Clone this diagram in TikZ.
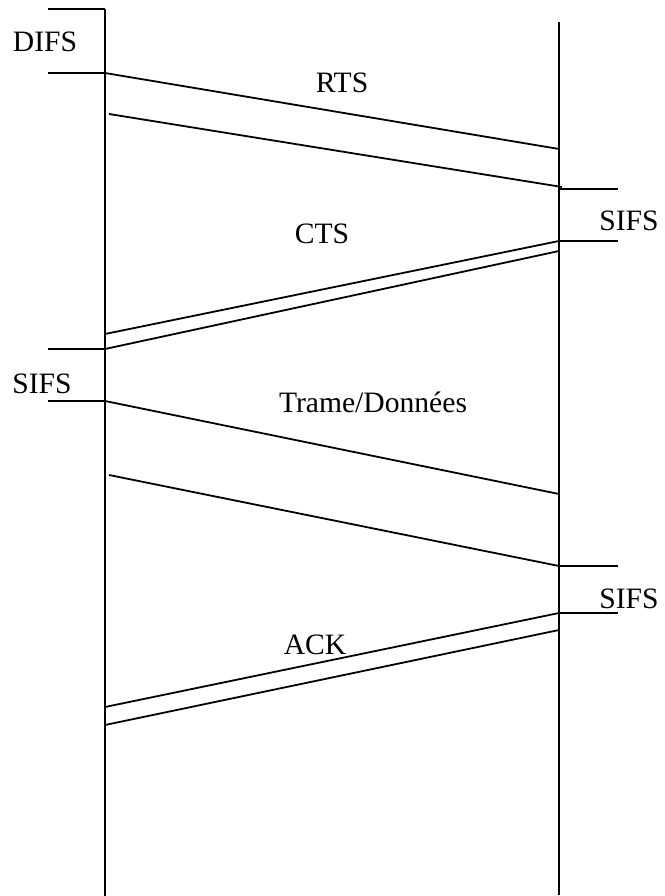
\documentclass[tikz,border=0pt]{standalone}
\usepackage{fontspec}
\setmainfont{Liberation Serif}
\tikzset{lbl/.style={inner sep=0pt, anchor=base, font=\fontsize{29.6}{34}\selectfont}}
\begin{document}
\begin{tikzpicture}[x=1pt,y=-1pt,line width=1.8pt]
\useasboundingbox (0,0) rectangle (664,896);
% the two stations
\coordinate (Atop) at (105,9);
\coordinate (Abot) at (105,896);
\coordinate (Btop) at (559,22);
\coordinate (Bbot) at (559,895);
\draw (Atop)--(Abot) (Btop)--(Bbot);
% DIFS
\coordinate (difsA) at (48,9);
\coordinate (difsB) at (48,73);
\coordinate (rtsA) at (105,73);
\draw (difsA)--(Atop) (difsB)--(rtsA);
\node[lbl] (difs) at (45,52) {DIFS};
% RTS
\coordinate (rtsB) at (559,149);
\coordinate (rtsC) at (109,114);
\coordinate (rtsD) at (562,187);
\draw (rtsA)--(rtsB) (rtsC)--(rtsD);
\node[lbl] (rts) at (342,93) {RTS};
% SIFS before CTS
\coordinate (sifsA) at (559,189);
\coordinate (sifsB) at (618,189);
\coordinate (ctsA) at (559,241);
\coordinate (sifsC) at (618,241);
\draw (sifsA)--(sifsB) (ctsA)--(sifsC);
\node[lbl] (sifsone) at (629,230) {SIFS};
% CTS
\coordinate (ctsB) at (105,334);
\coordinate (ctsC) at (559,251);
\coordinate (ctsD) at (105,349);
\draw (ctsA)--(ctsB) (ctsC)--(ctsD);
\node[lbl] (cts) at (322,243) {CTS};
% SIFS before data
\coordinate (sifsD) at (48,349);
\coordinate (sifsE) at (48,401);
\coordinate (dataA) at (105,401);
\draw (sifsD)--(ctsD) (sifsE)--(dataA);
\node[lbl] (sifstwo) at (42,393) {SIFS};
% data frame
\coordinate (dataB) at (559,494);
\coordinate (dataC) at (109,475);
\coordinate (dataD) at (559,566);
\draw (dataA)--(dataB) (dataC)--(dataD);
\node[lbl] (data) at (373,412) {Trame/Données};
% SIFS before ACK
\coordinate (sifsF) at (618,566);
\coordinate (ackA) at (559,613);
\coordinate (sifsG) at (618,613);
\draw (dataD)--(sifsF) (ackA)--(sifsG);
\node[lbl] (sifsthree) at (629,608) {SIFS};
% ACK
\coordinate (ackB) at (105,707);
\coordinate (ackC) at (559,630);
\coordinate (ackD) at (105,725);
\draw (ackA)--(ackB) (ackC)--(ackD);
\node[lbl] (ack) at (315,654) {ACK};
\end{tikzpicture}
\end{document}
